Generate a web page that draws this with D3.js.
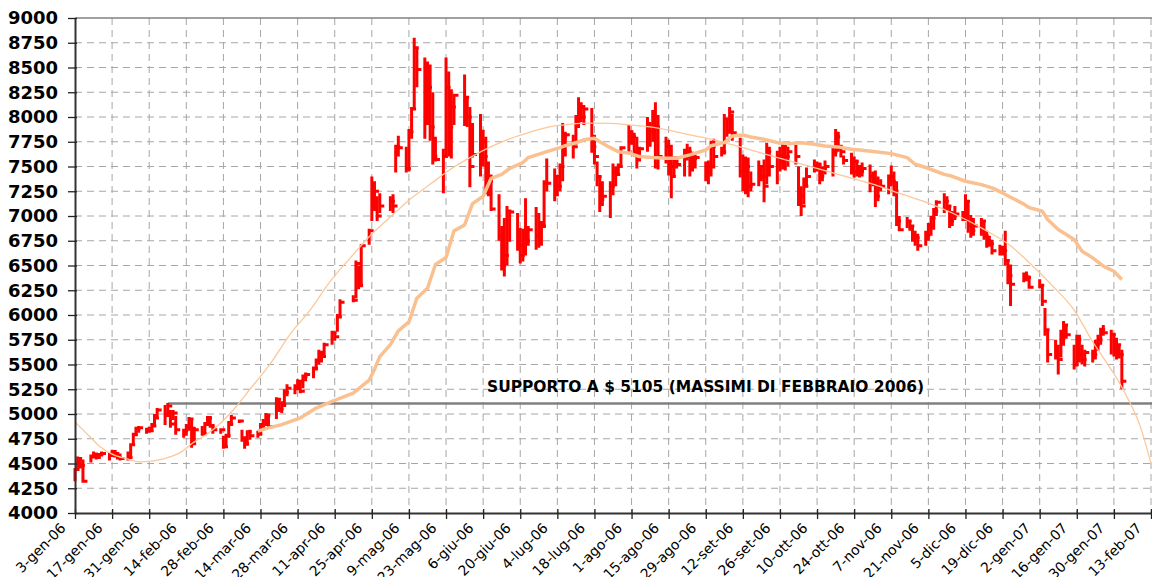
<!DOCTYPE html>
<html>
<head>
<meta charset="utf-8">
<script src="https://cdn.jsdelivr.net/npm/d3@7"></script>
<style>
body{margin:0;background:#fff}
svg{display:block;font-family:"DejaVu Sans",Verdana,sans-serif}
</style>
</head>
<body>
<svg></svg>
<script>
const mesi = ['gen','feb','mar','apr','mag','giu','lug','ago','set','ott','nov','dic']
const yTicks = [4000,4250,4500,4750,5000,5250,5500,5750,6000,6250,6500,6750,7000,7250,7500,7750,8000,8250,8500,8750,9000]
const holidays = ['2006-04-14','2006-04-17','2006-05-01','2006-05-29','2006-08-28','2006-12-25','2006-12-26','2007-01-01']

// daily high / low / close, one line per week
const high = [
4450,4570,4560,4540,
4590,4620,4610,4600,4620,
4610,4640,4630,4610,4600,
4620,4700,4810,4870,4880,
4860,4870,4910,5000,5060,
5090,5110,5040,5040,4980,
4850,4900,4970,4960,4870,
4880,4920,4980,4980,4900,
4850,4780,4800,4930,4990,
4940,4840,4760,4830,4840,
4830,4910,4950,5010,4990,
5170,5160,5130,5250,5300,
5300,5350,5330,5400,5420,
5480,5560,5650,5640,5720,
5840,5830,6010,6160,
6200,6550,6500,6710,
6870,7400,7350,7200,7230,
7200,7220,7720,7810,
7700,7880,8100,8800,8700,
8600,8560,8530,8250,7800,
7680,8600,8460,8280,8230,
8430,8200,8100,7940,
8030,7870,7800,7550,7420,
7220,6900,6980,7100,7050,
7030,6880,6870,7180,6900,
7090,7030,6950,7360,7580,
7480,7400,7530,7940,7850,
7820,8020,8200,8150,8120,
8090,7820,7550,7410,7350,
7350,7530,7500,7530,7700,
7920,7860,7840,7800,7700,
8000,7950,8070,8150,8020,
7800,7770,7720,7600,7600,
7680,7730,7700,7650,7620,
7550,7560,7760,7780,
7700,8030,7990,8100,8030,
7790,7620,7600,7590,7450,
7560,7500,7570,7740,7700,
7660,7700,7740,7720,7700,
7720,7500,7300,7390,7490,
7570,7550,7540,7500,7560,
7700,7880,7850,7720,7610,
7640,7600,7570,7500,7540,
7520,7450,7460,7400,7370,
7420,7510,7450,7350,7000,
6990,6950,6900,6850,6820,
6850,6930,7000,7080,7160,
7230,7200,7100,7050,7100,
7050,7220,7150,7010,6980,
6980,6950,6850,6800,6760,
6710,6700,6850,6560,6510,
6430,6440,6400,
6360,6300,6070,5850,
5750,5700,5850,5940,5900,
5700,5800,5800,5700,5650,
5650,5750,5800,5870,5900,
5850,5820,5770,5700,5650]

const low = [
4320,4430,4450,4310,
4510,4550,4540,4550,4570,
4530,4570,4560,4540,4530,
4530,4560,4680,4780,4810,
4800,4810,4840,4880,4950,
4890,4970,4860,4940,4790,
4760,4780,4830,4660,4720,
4780,4790,4880,4860,4800,
4800,4650,4660,4760,4880,
4910,4720,4650,4680,4740,
4760,4780,4860,4880,4850,
4950,5020,5010,5070,5180,
5200,5240,5210,5260,5330,
5360,5440,5500,5520,5580,
5700,5740,5830,5980,
6130,6170,6260,6280,
6710,6950,7050,6950,7030,
7050,7030,7440,7600,
7440,7450,7780,8080,8300,
7780,7920,7760,7520,7550,
7230,7610,7600,7580,7920,
7910,7900,7290,7590,
7400,7500,7220,7200,7050,
6750,6450,6390,6500,6740,
6650,6520,6540,6600,6700,
6660,6680,6700,6880,7250,
7150,7200,7250,7350,7600,
7580,7720,7890,7950,7920,
7640,7520,7300,7040,7100,
6980,7210,7300,7410,7510,
7650,7720,7600,7480,7550,
7650,7700,7750,7480,7470,
7530,7410,7180,7400,7480,
7400,7560,7400,7450,7480,
7350,7320,7400,7480,
7600,7620,7800,7830,7760,
7390,7250,7220,7190,7250,
7300,7350,7140,7320,7400,
7320,7450,7470,7460,7500,
7520,7100,7000,7120,7290,
7440,7450,7320,7350,7420,
7400,7600,7650,7590,7520,
7420,7390,7400,7390,7400,
7240,7300,7090,7150,7250,
7220,7300,7200,6900,6850,
6880,6850,6740,6700,6650,
6700,6750,6800,6860,7000,
7030,7050,6880,6900,6960,
6950,6950,6830,6780,6800,
6800,6760,6680,6690,6610,
6600,6600,6500,6310,6090,
6330,6340,6270,
6270,6090,5790,5520,
5550,5400,5570,5690,5760,
5450,5480,5520,5500,5480,
5520,5550,5640,5700,5790,
5600,5580,5550,5560,5250]

const close = [
4440,4550,4480,4320,
4570,4590,4560,4590,4600,
4580,4620,4600,4560,4550,
4560,4690,4790,4850,4860,
4840,4830,4880,4960,5040,
5000,5080,4900,5010,4840,
4830,4870,4950,4700,4840,
4800,4900,4960,4880,4840,
4840,4670,4780,4900,4960,
4930,4760,4700,4820,4780,
4800,4880,4920,4990,4870,
5150,5050,5090,5220,5260,
5270,5330,5230,5380,5400,
5460,5540,5620,5580,5700,
5820,5780,5980,6130,
6150,6520,6300,6700,
6850,7110,7250,7000,7100,
7150,7100,7700,7690,
7480,7850,8080,8700,8480,
8100,8300,7900,7600,7570,
7600,8300,7900,8100,8220,
8200,8000,7500,7620,
7750,7600,7400,7350,7070,
6800,6500,6600,7050,7040,
6700,6600,6800,6750,6860,
6800,6900,6900,7330,7330,
7400,7300,7500,7800,7820,
7700,7950,8100,8000,8080,
7700,7600,7400,7170,7200,
7300,7450,7420,7500,7690,
7850,7800,7650,7600,7680,
7900,7850,8000,7900,7600,
7700,7500,7400,7550,7520,
7600,7650,7500,7580,7590,
7450,7500,7700,7600,
7650,7980,7850,8050,7840,
7450,7400,7500,7300,7320,
7500,7400,7300,7650,7500,
7600,7550,7700,7600,7650,
7600,7200,7100,7300,7400,
7500,7520,7400,7480,7500,
7650,7800,7700,7650,7560,
7450,7550,7500,7450,7480,
7400,7350,7200,7300,7300,
7400,7350,7250,6950,6860,
6950,6900,6800,6780,6700,
6800,6900,6980,7050,7140,
7150,7100,6950,7000,7020,
7000,7150,6900,6850,6900,
6950,6800,6750,6720,6650,
6680,6650,6550,6400,6310,
6400,6380,6280,
6300,6140,5850,5600,
5600,5550,5800,5900,5800,
5500,5750,5600,5550,5620,
5600,5700,5750,5850,5820,
5800,5650,5700,5600,5330]

// 50-day moving average
const maDates = ['2006-03-13','2006-03-17','2006-03-22','2006-03-29','2006-04-04','2006-04-10','2006-04-18','2006-04-24','2006-04-26','2006-04-28',
'2006-05-02','2006-05-05','2006-05-09','2006-05-12','2006-05-16','2006-05-19','2006-05-23','2006-05-26','2006-05-30','2006-06-02',
'2006-06-06','2006-06-09','2006-06-13','2006-06-16','2006-06-21','2006-06-23','2006-06-30','2006-07-05','2006-07-07','2006-07-11',
'2006-07-14','2006-07-18','2006-07-20','2006-07-24','2006-07-27','2006-07-31','2006-08-04','2006-08-09','2006-08-14','2006-08-18',
'2006-08-23','2006-08-29','2006-08-31','2006-09-05','2006-09-08','2006-09-12','2006-09-15','2006-09-20','2006-09-25','2006-09-29',
'2006-10-04','2006-10-09','2006-10-13','2006-10-18','2006-10-23','2006-10-27','2006-11-01','2006-11-07','2006-11-13','2006-11-16',
'2006-11-20','2006-11-27','2006-11-30','2006-12-05','2006-12-11','2006-12-15','2006-12-19','2006-12-22','2006-12-27','2006-12-29',
'2007-01-03','2007-01-05','2007-01-09','2007-01-15','2007-01-18','2007-01-22','2007-01-26','2007-01-30','2007-02-02']
const maValues = [4827,4860,4893,4960,5060,5127,5210,5343,5450,5580,
5700,5840,5930,6170,6270,6510,6580,6850,6910,7125,
7200,7380,7420,7480,7540,7590,7650,7690,7710,7740,
7770,7785,7750,7690,7650,7635,7600,7590,7583,7583,
7617,7667,7710,7741,7808,7818,7798,7775,7741,7731,
7741,7724,7708,7698,7674,7664,7650,7630,7590,7523,
7490,7420,7401,7351,7317,7284,7233,7190,7120,7085,
7048,6964,6863,6762,6644,6577,6493,6442,6358]

// polynomial trend line
const trendDates = ['2006-01-03','2006-01-09','2006-01-12','2006-01-17','2006-01-23','2006-01-27','2006-02-01','2006-02-07','2006-02-12','2006-02-16',
'2006-02-22','2006-02-27','2006-03-04','2006-03-10','2006-03-18','2006-03-25','2006-04-02','2006-04-09','2006-04-17','2006-04-24',
'2006-05-02','2006-05-09','2006-05-17','2006-05-24','2006-06-01','2006-06-09','2006-06-16','2006-06-24','2006-07-01','2006-07-09',
'2006-07-16','2006-07-24','2006-07-31','2006-08-08','2006-08-17','2006-08-24','2006-09-01','2006-09-12','2006-09-25','2006-10-07',
'2006-10-20','2006-11-02','2006-11-11','2006-11-20','2006-11-30','2006-12-13','2006-12-22','2006-12-29','2007-01-07','2007-01-15',
'2007-01-22','2007-01-27','2007-02-01','2007-02-04','2007-02-09','2007-02-13']
const trendValues = [4920,4760,4680,4595,4545,4517,4525,4560,4615,4700,
4800,4910,5050,5250,5520,5800,6060,6330,6580,6790,
6990,7160,7320,7460,7590,7700,7780,7850,7900,7928,
7938,7935,7920,7900,7855,7815,7770,7690,7590,7505,
7405,7305,7220,7140,7030,6850,6700,6530,6290,6050,
5730,5530,5320,5170,4870,4500]

const supporto = 5105
const supportoDa = '2006-02-07'
const nota = 'SUPPORTO A $ 5105 (MASSIMI DI FEBBRAIO 2006)'

const width = 1152, height = 577
const margin = {top:18, right:1, bottom:64, left:75}
const parse = d3.timeParse('%Y-%m-%d')
const fmt = d3.timeFormat('%Y-%m-%d')
const skip = new Set(holidays)
const days = d3.timeDay.range(parse('2006-01-03'), parse('2007-02-03'))
  .filter(d => d.getDay() > 0 && d.getDay() < 6 && !skip.has(fmt(d)))

const start = parse('2006-01-03'), end = parse('2007-02-13')
const x = d3.scaleTime().domain([start, end]).range([margin.left, width - margin.right])
const y = d3.scaleLinear().domain([4000, 9000]).range([height - margin.bottom, margin.top])
const xTicks = d3.range(30).map(i => d3.timeDay.offset(start, 14 * i))
const etichetta = d => `${d.getDate()}-${mesi[d.getMonth()]}-${String(d.getFullYear()).slice(2)}`

const svg = d3.select('svg').attr('width', width).attr('height', height)

// grid
svg.append('g').attr('stroke', '#a6a6a6').attr('stroke-dasharray', '7,5')
  .selectAll('line.h').data(yTicks.slice(1, -1)).join('line')
  .attr('x1', margin.left).attr('x2', width).attr('y1', d => y(d)).attr('y2', d => y(d))
svg.append('g').attr('stroke', '#a6a6a6').attr('stroke-dasharray', '7,5')
  .selectAll('line').data(xTicks.slice(1)).join('line')
  .attr('x1', d => x(d)).attr('x2', d => x(d)).attr('y1', y(9000)).attr('y2', y(4000))
svg.append('line').attr('x1', margin.left).attr('x2', width).attr('y1', y(9000)).attr('y2', y(9000))
  .attr('stroke', '#808080').attr('stroke-width', 1.5)

// support line
svg.append('line').attr('x1', x(parse(supportoDa))).attr('x2', width)
  .attr('y1', y(supporto)).attr('y2', y(supporto))
  .attr('stroke', '#808080').attr('stroke-width', 2.5)
svg.append('text').attr('x', 487).attr('y', 392).attr('font-size', 15).attr('font-weight', 'bold')
  .attr('textLength', 437).attr('lengthAdjust', 'spacingAndGlyphs').text(nota)

// bars
svg.append('g').attr('stroke', '#ff0000').attr('stroke-width', 3).attr('fill', 'none')
  .selectAll('path').data(days).join('path')
  .attr('d', (d, i) => `M${x(d)},${y(high[i])}V${y(low[i])}M${x(d) - 1.5},${y(close[i])}h6`)

// trend lines
svg.append('path').datum(trendDates.map((d, i) => [parse(d), trendValues[i]]))
  .attr('fill', 'none').attr('stroke', '#fcc89b').attr('stroke-width', 1.3)
  .attr('d', d3.line().x(d => x(d[0])).y(d => y(d[1])).curve(d3.curveMonotoneX))
svg.append('path').datum(maDates.map((d, i) => [parse(d), maValues[i]]))
  .attr('fill', 'none').attr('stroke', '#fac090').attr('stroke-width', 3.5).attr('stroke-linejoin', 'round')
  .attr('d', d3.line().x(d => x(d[0])).y(d => y(d[1])))

// axes
function xAxis(g){
  g.attr('transform', `translate(0,${y(4000)})`)
   .call(d3.axisBottom(x).tickValues(xTicks).tickFormat(etichetta).tickSize(6).tickSizeOuter(0))
  g.select('.domain').attr('stroke', '#333').attr('stroke-width', 2)
  g.selectAll('.tick line').attr('y1', -4).attr('stroke', '#222').attr('stroke-width', 1.3)
  g.selectAll('.tick text').attr('font-size', 14).attr('font-family', '"DejaVu Sans",Verdana,sans-serif')
   .attr('fill', '#000').attr('text-anchor', 'end').attr('y', 0).attr('dy', 0)
   .attr('transform', 'translate(-9,16) rotate(-45)')
}
function yAxis(g){
  g.attr('transform', `translate(${margin.left},0)`)
   .call(d3.axisLeft(y).tickValues(yTicks).tickFormat(d => d).tickSize(7).tickSizeOuter(0))
  g.select('.domain').attr('stroke', '#333').attr('stroke-width', 2)
  g.selectAll('.tick line').attr('x1', -7).attr('x2', 2).attr('stroke', '#222').attr('stroke-width', 1.3)
  g.selectAll('.tick text').attr('font-size', 18).attr('font-weight', 'bold')
   .attr('font-family', '"DejaVu Sans",Verdana,sans-serif').attr('fill', '#000').attr('x', -17)
}
svg.append('g').call(xAxis)
svg.append('g').call(yAxis)
</script>
</body>
</html>
